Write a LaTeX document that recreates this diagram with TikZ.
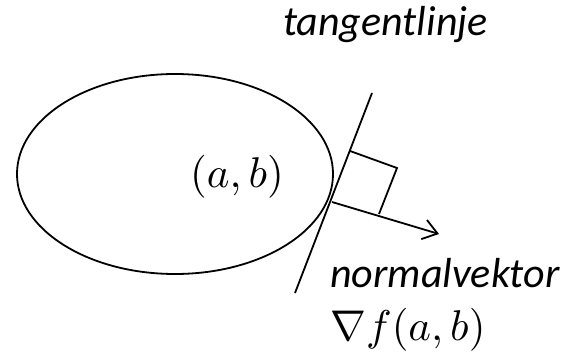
\documentclass[tikz,border=0pt]{standalone}
\usepackage{fontspec}
\setmainfont{Carlito}
\usepackage{graphicx}
\usepackage{tikz}
\usetikzlibrary{arrows.meta,calc}

\newcommand{\bigmath}[1]{\scalebox{4.3}{$#1$}}

\begin{document}
\begin{tikzpicture}[x=1pt,y=-1pt,line width=1.8pt]
        \useasboundingbox (0,0) rectangle (585,358);
        \draw (175,174) ellipse (158pt and 100pt);
        \node[anchor=base] (pt) at (237,187) {\bigmath{(a,b)}};
        \coordinate (p) at (332,202);
        \coordinate (ttop) at (372,93);
        \coordinate (tbot) at (295,293);
        \draw (ttop) -- (tbot);
        \draw (350,151) -- (397,168) -- (379,214);
        \coordinate (tip) at (439,234);
        \draw[-{Straight Barb[length=14pt,width=20pt]}] (p) -- (tip);
        \node[font=\fontsize{42}{48}\selectfont\itshape,anchor=base] (tl) at (385.5,36) {tangentlinje};
        \node[font=\fontsize{42}{48}\selectfont\itshape,anchor=base west] (nv) at (326,287) {normalvektor};
        \node[anchor=base west] (grad) at (326,340) {\bigmath{\nabla f(a,b)}};
      \end{tikzpicture}
\end{document}
